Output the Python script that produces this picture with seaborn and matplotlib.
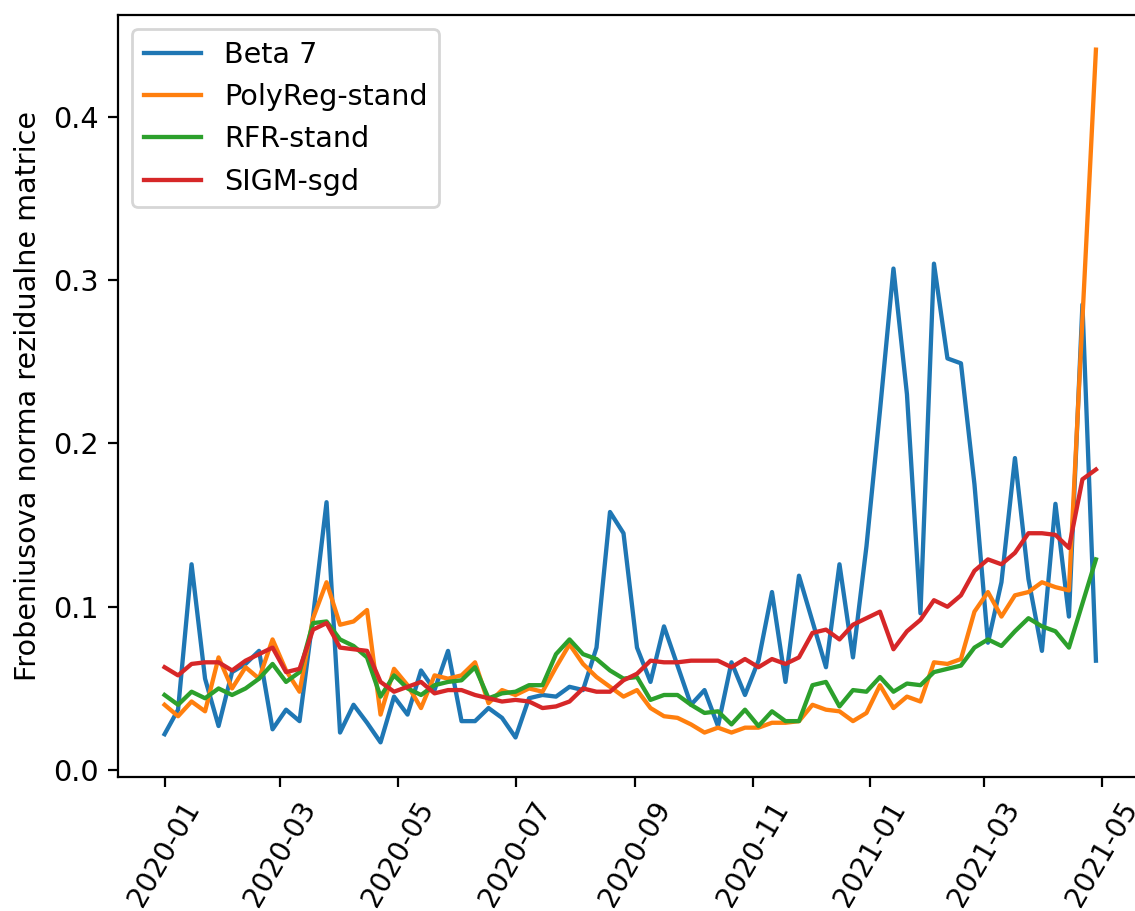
import matplotlib
matplotlib.use("Agg")
import matplotlib.pyplot as plt
import pandas as pd
import seaborn as sns

plt.rcParams["font.size"] = 10.3
plt.rcParams["xtick.labelsize"] = 10

# Weekly evaluation dates
dates = pd.date_range("2020-01-01", periods=70, freq="7D")

beta7 = [
    0.022, 0.037, 0.126, 0.056, 0.027, 0.060, 0.065, 0.073, 0.025, 0.037,
    0.030, 0.094, 0.164, 0.023, 0.040, 0.029, 0.017, 0.045, 0.034, 0.061,
    0.049, 0.073, 0.030, 0.030, 0.038, 0.032, 0.020, 0.044, 0.046, 0.045,
    0.051, 0.049, 0.075, 0.158, 0.145, 0.075, 0.054, 0.088, 0.064, 0.040,
    0.049, 0.027, 0.066, 0.046, 0.067, 0.109, 0.054, 0.119, 0.091, 0.063,
    0.126, 0.069, 0.137, 0.220, 0.307, 0.230, 0.096, 0.310, 0.252, 0.249,
    0.175, 0.078, 0.115, 0.191, 0.117, 0.073, 0.163, 0.094, 0.285, 0.067,
]

polyreg_stand = [
    0.040, 0.033, 0.042, 0.036, 0.069, 0.050, 0.063, 0.056, 0.080, 0.061,
    0.048, 0.093, 0.115, 0.089, 0.091, 0.098, 0.034, 0.062, 0.052, 0.038,
    0.058, 0.056, 0.058, 0.066, 0.041, 0.049, 0.046, 0.050, 0.048, 0.063,
    0.077, 0.065, 0.057, 0.051, 0.045, 0.049, 0.038, 0.033, 0.032, 0.028,
    0.023, 0.026, 0.023, 0.026, 0.026, 0.029, 0.029, 0.030, 0.040, 0.037,
    0.036, 0.030, 0.035, 0.052, 0.038, 0.045, 0.042, 0.066, 0.065, 0.068,
    0.097, 0.109, 0.094, 0.107, 0.109, 0.115, 0.112, 0.110, 0.276, 0.441,
]

rfr_stand = [
    0.046, 0.040, 0.048, 0.044, 0.050, 0.046, 0.050, 0.056, 0.065, 0.054,
    0.060, 0.090, 0.091, 0.080, 0.076, 0.069, 0.045, 0.058, 0.050, 0.046,
    0.052, 0.054, 0.055, 0.063, 0.044, 0.047, 0.048, 0.052, 0.052, 0.071,
    0.080, 0.071, 0.068, 0.061, 0.056, 0.057, 0.043, 0.046, 0.046, 0.040,
    0.035, 0.036, 0.028, 0.037, 0.027, 0.036, 0.030, 0.030, 0.052, 0.054,
    0.039, 0.049, 0.048, 0.057, 0.048, 0.053, 0.052, 0.060, 0.062, 0.064,
    0.075, 0.080, 0.076, 0.085, 0.093, 0.088, 0.085, 0.075, 0.102, 0.129,
]

sigm_sgd = [
    0.063, 0.058, 0.065, 0.066, 0.066, 0.061, 0.067, 0.071, 0.075, 0.060,
    0.062, 0.086, 0.090, 0.075, 0.074, 0.073, 0.054, 0.048, 0.051, 0.054,
    0.047, 0.049, 0.049, 0.046, 0.044, 0.042, 0.043, 0.042, 0.038, 0.039,
    0.042, 0.050, 0.048, 0.048, 0.055, 0.059, 0.067, 0.066, 0.066, 0.067,
    0.067, 0.067, 0.063, 0.068, 0.063, 0.068, 0.065, 0.069, 0.084, 0.086,
    0.080, 0.089, 0.093, 0.097, 0.074, 0.085, 0.092, 0.104, 0.100, 0.107,
    0.122, 0.129, 0.126, 0.133, 0.145, 0.145, 0.144, 0.136, 0.178, 0.184,
]

series_names = ["Beta 7", "PolyReg-stand", "RFR-stand", "SIGM-sgd"]
series_values = [beta7, polyreg_stand, rfr_stand, sigm_sgd]
colors = sns.color_palette("tab10", 4)

fig = plt.figure(figsize=(1135 / 200, 911 / 200), dpi=200)
ax = fig.add_axes([118 / 1135, 134 / 911, 1024.5 / 1135, 762 / 911])

for name, vals, col in zip(series_names, series_values, colors):
    sns.lineplot(x=dates, y=vals, label=name, color=col, linewidth=1.55, ax=ax)

ax.set_ylabel("Frobeniusova norma rezidualne matrice")
ax.set_xlabel("")
ax.legend(loc="upper left")
plt.setp(ax.get_xticklabels(), rotation=60)

fig.savefig("out.png", dpi=200)
